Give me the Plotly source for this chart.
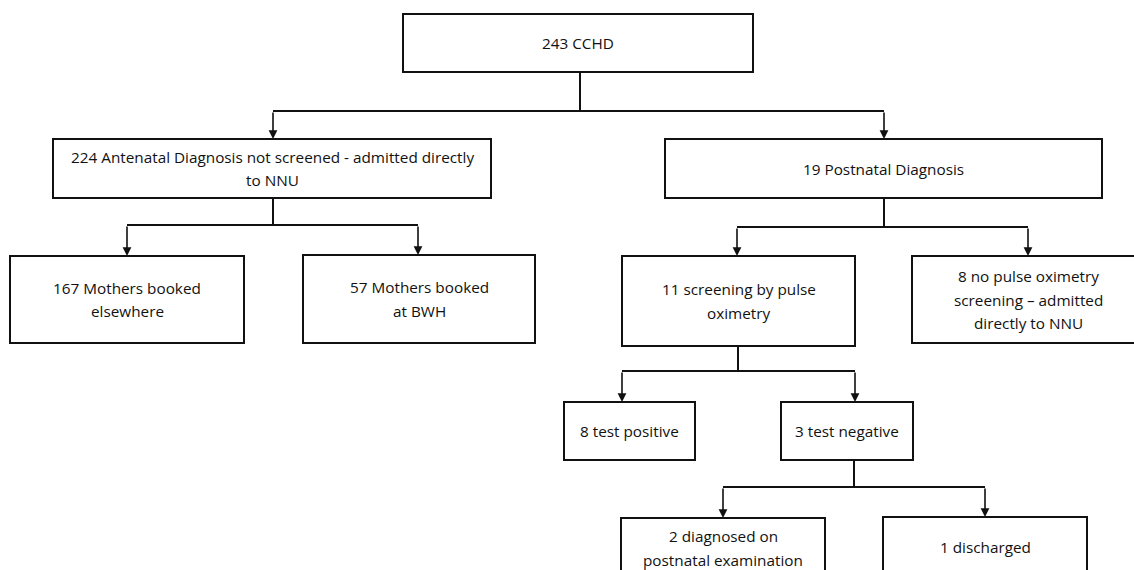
import plotly.graph_objects as go

# ---- Data: node labels (one list entry per text line) ----
root_label = ["243 CCHD"]
antenatal_label = ["224 Antenatal Diagnosis not screened - admitted directly", "to NNU"]
postnatal_label = ["19 Postnatal Diagnosis"]
elsewhere_label = ["167 Mothers booked", "elsewhere"]
bwh_label = ["57 Mothers booked", "at BWH"]
screened_label = ["11 screening by pulse", "oximetry"]
not_screened_label = ["8 no pulse oximetry", "screening \u2013 admitted", "directly to NNU"]
positive_label = ["8 test positive"]
negative_label = ["3 test negative"]
diagnosed_label = ["2 diagnosed on", "postnatal examination"]
discharged_label = ["1 discharged"]

labels = {
    "root": root_label, "ante": antenatal_label, "post": postnatal_label,
    "else": elsewhere_label, "bwh": bwh_label, "scr": screened_label,
    "noscr": not_screened_label, "pos": positive_label, "neg": negative_label,
    "diag": diagnosed_label, "dis": discharged_label,
}

# tree structure: parent -> children
edges = [
    ("root", ["ante", "post"]),
    ("ante", ["else", "bwh"]),
    ("post", ["scr", "noscr"]),
    ("scr", ["pos", "neg"]),
    ("neg", ["diag", "dis"]),
]

# ---- Layout (pixel coordinates, y downward) ----
boxes = {  # x0, x1, y0, y1
    "root": (403, 753, 14, 72),
    "ante": (53, 491, 139, 198),
    "post": (665, 1102, 139, 198),
    "else": (10, 244, 256, 343),
    "bwh": (303, 535, 255, 343),
    "scr": (622, 855, 256, 346),
    "noscr": (912, 1160, 256, 343),
    "pos": (564, 695, 402, 460),
    "neg": (781, 913, 402, 460),
    "diag": (621, 825, 518, 578),
    "dis": (883, 1087, 517, 576),
}
text_cx = {"noscr": 1028}  # text centre where box runs off the page
stems = {  # parent: (stem x, bar y, [arrow x for each child])
    "root": (580, 111, [273, 884]),
    "ante": (273, 225, [127, 418]),
    "post": (884, 227, [737, 1028]),
    "scr": (738, 371, [622, 855]),
    "neg": (854, 487, [723, 985]),
}
LINE_GAP = 23.5
FONT = dict(family="'Open Sans', sans-serif", size=15.3, color="#111111")

fig = go.Figure()
shapes = []
annotations = []

for key, (x0, x1, y0, y1) in boxes.items():
    shapes.append(dict(type="rect", xref="x", yref="y", x0=x0, x1=x1, y0=y0, y1=y1,
                       line=dict(color="#111111", width=2), fillcolor="rgba(0,0,0,0)"))
    lines = labels[key]
    cx = text_cx.get(key, (x0 + x1) / 2)
    cy = (y0 + y1) / 2
    n = len(lines)
    for i, t in enumerate(lines):
        ty = cy + (i - (n - 1) / 2) * LINE_GAP
        annotations.append(dict(x=cx, y=ty, xref="x", yref="y", text=t, showarrow=False,
                                font=FONT, xanchor="center", yanchor="middle"))

for parent, children in edges:
    sx, by, axs = stems[parent]
    py1 = boxes[parent][3]
    shapes.append(dict(type="line", xref="x", yref="y", x0=sx, x1=sx, y0=py1, y1=by,
                       line=dict(color="#111111", width=2)))
    shapes.append(dict(type="line", xref="x", yref="y", x0=min(axs), x1=max(axs), y0=by, y1=by,
                       line=dict(color="#111111", width=2)))
    for child, ax in zip(children, axs):
        cy0 = boxes[child][2]
        annotations.append(dict(x=ax, y=cy0, ax=ax, ay=by, xref="x", yref="y",
                                axref="x", ayref="y", text="", showarrow=True,
                                arrowhead=2, arrowsize=1.1, arrowwidth=1.6,
                                arrowcolor="#111111", standoff=0, startstandoff=0))

fig.update_layout(
    width=1134, height=570,
    margin=dict(l=0, r=0, t=0, b=0),
    paper_bgcolor="white", plot_bgcolor="white",
    xaxis=dict(range=[0, 1134], visible=False, fixedrange=True),
    yaxis=dict(range=[570, 0], visible=False, fixedrange=True),
    shapes=shapes, annotations=annotations, showlegend=False,
)
fig.write_html(
    "out.html",
    config={"displayModeBar": False},
    post_script="document.body.style.margin='0';document.body.style.overflow='hidden';",
)
